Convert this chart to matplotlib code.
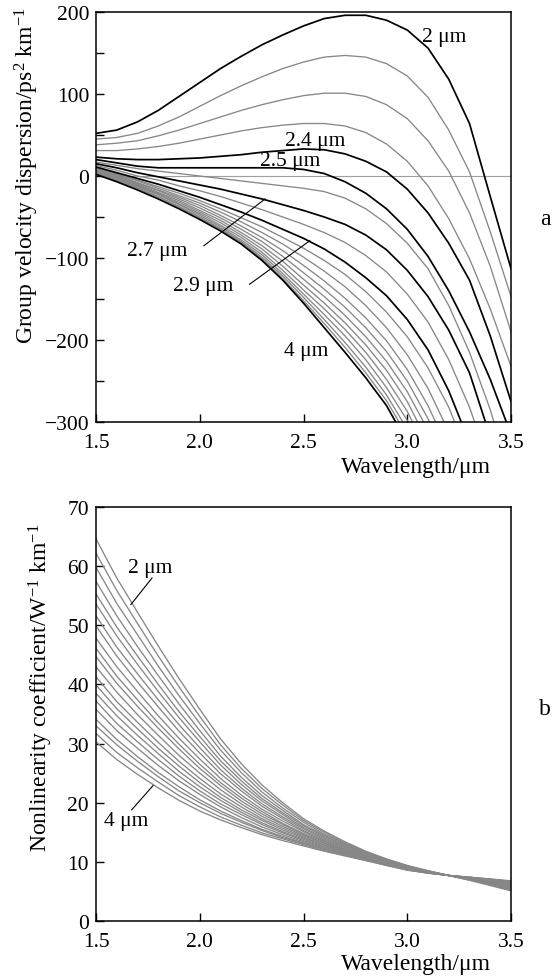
import numpy as np, matplotlib
matplotlib.use('Agg')
import matplotlib.pyplot as plt
from matplotlib.ticker import MultipleLocator, FormatStrFormatter

plt.rcParams.update({'font.family': 'Liberation Serif', 'font.size': 15.5,
                     'mathtext.fontset': 'custom', 'mathtext.rm': 'Liberation Serif',
                     'mathtext.it': 'Liberation Serif:italic', 'axes.linewidth': 1.1})

wl = [1.5, 1.6, 1.7, 1.8, 1.9, 2.0, 2.1, 2.2, 2.3, 2.4, 2.5,
      2.6, 2.7, 2.8, 2.9, 3.0, 3.1, 3.2, 3.3, 3.4, 3.5]
diam = [2.0, 2.1, 2.2, 2.3, 2.4, 2.5, 2.6, 2.7, 2.8, 2.9, 3.0,
        3.1, 3.2, 3.3, 3.4, 3.5, 3.6, 3.7, 3.8, 3.9, 4.0]
black_d = [2.0, 2.4, 2.5, 2.7, 2.9, 4.0]

# group velocity dispersion, ps^2/km, one list per core diameter
gvd_20 = [52, 56, 66, 80, 97, 114, 131, 146, 160, 172, 183, 192, 196, 196, 190, 178, 156, 118, 64, -25, -113]
gvd_21 = [45, 47, 52, 61, 72, 85, 98, 110, 121, 131, 139, 145, 147, 145, 137, 122, 96, 56, 5, -68, -147]
gvd_22 = [38, 40, 43, 49, 56, 64, 72, 80, 87, 93, 98, 101, 101, 97, 87, 70, 43, 6, -45, -110, -190]
gvd_23 = [31, 31, 33, 36, 40, 45, 50, 55, 59, 62, 64, 64, 61, 53, 39, 18, -12, -52, -101, -162, -232]
gvd_24 = [23, 21, 20, 20, 21, 22, 24, 26, 29, 31, 33, 32, 27, 18, 5, -16, -45, -82, -127, -195, -275]
gvd_25 = [20, 16, 12, 10, 10, 10, 10, 10, 10, 10, 8, 3, -7, -21, -40, -65, -98, -140, -190, -248, -315]
gvd_26 = [17, 13, 9, 6, 3, 0, -3, -6, -9, -12, -15, -19, -27, -40, -58, -82, -113, -158, -215, -285, -370]
gvd_27 = [15, 10, 4, -1, -6, -11, -16, -22, -28, -35, -42, -50, -59, -72, -90, -115, -147, -188, -240, -318, -400]
gvd_28 = [13, 7, 0, -5, -12, -18, -25, -33, -41, -50, -59, -69, -81, -97, -117, -144, -178, -224, -282, -355, -440]
gvd_29 = [11, 4, -3, -10, -18, -26, -35, -44, -54, -65, -76, -89, -105, -124, -146, -175, -212, -262, -325, -400, -480]
gvd_30 = [10, 3, -5, -13, -21, -30, -40, -51, -62, -75, -88, -103, -120, -141, -166, -196, -234, -282, -345, -420, -500]
gvd_31 = [9, 2, -6, -15, -24, -33, -44, -56, -69, -83, -99, -116, -135, -158, -185, -218, -259, -312, -380, -460, -550]
gvd_32 = [8, 1, -8, -17, -26, -36, -48, -61, -75, -91, -109, -128, -149, -173, -201, -236, -280, -335, -400, -480, -570]
gvd_33 = [7, 0, -9, -18, -28, -39, -51, -65, -80, -98, -118, -138, -160, -185, -214, -250, -296, -352, -420, -500, -590]
gvd_34 = [6, -1, -10, -20, -30, -42, -54, -69, -85, -104, -126, -147, -170, -196, -226, -263, -310, -368, -440, -520, -610]
gvd_35 = [5, -2, -11, -21, -32, -44, -57, -72, -89, -110, -133, -155, -179, -206, -237, -275, -325, -385, -455, -535, -625]
gvd_36 = [4.5, -3, -12, -22, -34, -46, -60, -75, -93, -115, -139, -162, -187, -215, -248, -287, -338, -400, -470, -550, -640]
gvd_37 = [4, -4, -13, -23, -35, -48, -62, -78, -96, -119, -144, -169, -195, -224, -258, -298, -350, -412, -485, -565, -655]
gvd_38 = [3.5, -5, -14, -25, -37, -50, -64, -80, -99, -122, -148, -175, -203, -233, -267, -309, -362, -425, -500, -580, -670]
gvd_39 = [3, -6, -15, -26, -38, -51, -65, -81, -101, -125, -152, -180, -209, -240, -274, -317, -370, -435, -510, -590, -680]
gvd_40 = [2, -7, -17, -28, -40, -53, -67, -83, -103, -127, -155, -185, -215, -246, -280, -325, -380, -445, -520, -600, -690]

# nonlinearity coefficient, 1/(W km)
gam_20 = [64.6, 58.0, 52.2, 46.5, 41.0, 35.8, 30.8, 26.6, 23.0, 20.0, 17.3, 15.2, 13.4, 11.8, 10.5, 9.4, 8.5, 7.7, 6.9, 6.0, 5.1]
gam_21 = [62.2, 55.9, 50.3, 44.8, 39.6, 34.6, 29.8, 25.8, 22.4, 19.6, 17.0, 15.0, 13.2, 11.7, 10.4, 9.3, 8.5, 7.7, 6.9, 6.1, 5.2]
gam_22 = [59.8, 53.7, 48.4, 43.1, 38.1, 33.4, 28.9, 25.1, 21.8, 19.1, 16.7, 14.7, 13.1, 11.6, 10.4, 9.3, 8.4, 7.7, 7.0, 6.2, 5.3]
gam_23 = [57.4, 51.6, 46.4, 41.5, 36.7, 32.2, 27.9, 24.3, 21.2, 18.7, 16.3, 14.5, 12.9, 11.5, 10.3, 9.2, 8.4, 7.7, 7.0, 6.2, 5.5]
gam_24 = [55.3, 49.7, 44.8, 40.0, 35.4, 31.2, 27.1, 23.7, 20.7, 18.3, 16.1, 14.3, 12.8, 11.4, 10.2, 9.2, 8.4, 7.7, 7.0, 6.3, 5.6]
gam_25 = [53.6, 48.2, 43.4, 38.8, 34.4, 30.3, 26.4, 23.1, 20.3, 18.0, 15.8, 14.1, 12.6, 11.3, 10.2, 9.1, 8.4, 7.7, 7.1, 6.4, 5.6]
gam_26 = [51.6, 46.3, 41.8, 37.4, 33.2, 29.3, 25.6, 22.5, 19.8, 17.6, 15.6, 13.9, 12.5, 11.2, 10.1, 9.1, 8.4, 7.7, 7.1, 6.4, 5.8]
gam_27 = [49.9, 44.8, 40.4, 36.2, 32.1, 28.4, 24.9, 22.0, 19.4, 17.3, 15.3, 13.7, 12.4, 11.1, 10.0, 9.1, 8.3, 7.7, 7.1, 6.5, 5.8]
gam_28 = [47.8, 43.0, 38.8, 34.7, 30.9, 27.4, 24.1, 21.3, 18.9, 16.9, 15.1, 13.5, 12.2, 11.0, 10.0, 9.0, 8.3, 7.7, 7.2, 6.5, 5.9]
gam_29 = [46.1, 41.4, 37.4, 33.5, 29.9, 26.5, 23.4, 20.8, 18.5, 16.5, 14.8, 13.4, 12.1, 10.9, 9.9, 9.0, 8.3, 7.7, 7.2, 6.6, 6.0]
gam_30 = [44.7, 40.2, 36.3, 32.6, 29.1, 25.8, 22.9, 20.3, 18.1, 16.3, 14.6, 13.2, 12.0, 10.9, 9.9, 8.9, 8.3, 7.7, 7.2, 6.6, 6.1]
gam_31 = [43.0, 38.7, 34.9, 31.4, 28.0, 25.0, 22.2, 19.8, 17.7, 16.0, 14.4, 13.1, 11.9, 10.8, 9.8, 8.9, 8.3, 7.7, 7.2, 6.7, 6.2]
gam_32 = [41.3, 37.1, 33.6, 30.2, 27.0, 24.1, 21.5, 19.3, 17.3, 15.7, 14.2, 12.9, 11.8, 10.7, 9.8, 8.9, 8.2, 7.7, 7.3, 6.8, 6.3]
gam_33 = [39.9, 35.9, 32.5, 29.2, 26.2, 23.4, 20.9, 18.8, 17.0, 15.4, 14.0, 12.8, 11.7, 10.7, 9.7, 8.8, 8.2, 7.7, 7.3, 6.8, 6.3]
gam_34 = [38.5, 34.7, 31.4, 28.3, 25.3, 22.7, 20.4, 18.4, 16.6, 15.1, 13.8, 12.6, 11.6, 10.6, 9.7, 8.8, 8.2, 7.7, 7.3, 6.8, 6.4]
gam_35 = [37.2, 33.4, 30.3, 27.3, 24.5, 22.0, 19.8, 18.0, 16.3, 14.9, 13.6, 12.5, 11.5, 10.5, 9.6, 8.8, 8.2, 7.7, 7.3, 6.9, 6.5]
gam_36 = [35.8, 32.2, 29.2, 26.3, 23.7, 21.4, 19.3, 17.5, 15.9, 14.6, 13.4, 12.3, 11.4, 10.5, 9.6, 8.7, 8.2, 7.7, 7.3, 6.9, 6.5]
gam_37 = [34.1, 30.7, 27.8, 25.1, 22.7, 20.5, 18.6, 17.0, 15.5, 14.3, 13.2, 12.2, 11.3, 10.4, 9.5, 8.7, 8.1, 7.7, 7.4, 7.0, 6.6]
gam_38 = [33.0, 29.8, 27.0, 24.4, 22.0, 20.0, 18.2, 16.7, 15.3, 14.1, 13.1, 12.1, 11.2, 10.3, 9.5, 8.7, 8.1, 7.7, 7.4, 7.0, 6.7]
gam_39 = [31.7, 28.5, 25.9, 23.5, 21.2, 19.3, 17.6, 16.2, 14.9, 13.9, 12.9, 11.9, 11.1, 10.3, 9.4, 8.6, 8.1, 7.7, 7.4, 7.1, 6.7]
gam_40 = [30.3, 27.3, 24.8, 22.5, 20.4, 18.6, 17.1, 15.8, 14.6, 13.6, 12.7, 11.8, 11.0, 10.2, 9.4, 8.6, 8.1, 7.7, 7.4, 7.1, 6.8]

gvd = [gvd_20, gvd_21, gvd_22, gvd_23, gvd_24, gvd_25, gvd_26, gvd_27, gvd_28, gvd_29, gvd_30,
       gvd_31, gvd_32, gvd_33, gvd_34, gvd_35, gvd_36, gvd_37, gvd_38, gvd_39, gvd_40]
gam = [gam_20, gam_21, gam_22, gam_23, gam_24, gam_25, gam_26, gam_27, gam_28, gam_29, gam_30,
       gam_31, gam_32, gam_33, gam_34, gam_35, gam_36, gam_37, gam_38, gam_39, gam_40]

GREY = '#878787'
W, H = 556, 978
fig = plt.figure(figsize=(W / 100, H / 100), dpi=100)
ax1 = fig.add_axes([96 / W, 1 - 423 / H, 415 / W, 410 / H])
ax2 = fig.add_axes([96 / W, 1 - 922 / H, 415 / W, 414 / H])

# ---- a: dispersion ----
ax1.axhline(0, color='#a0a0a0', lw=0.8, zorder=1)
for d, g in zip(diam, gvd):
    blk = d in black_d
    ax1.plot(wl, g, color='black' if blk else GREY, lw=1.25 if blk else 0.95, zorder=3 if blk else 2)
ax1.set_ylim(-300, 200)
ax1.yaxis.set_major_locator(MultipleLocator(100))
ax1.yaxis.set_minor_locator(MultipleLocator(50))

ax1.text(3.07, 170, '2 μm', va='center')
ax1.text(2.41, 43, '2.4 μm', va='center')
ax1.text(2.29, 19, '2.5 μm', va='center')
ax1.text(1.795, -91, '2.7 μm', ha='center', va='center')
ax1.plot([2.02, 2.315], [-85, -28], color='black', lw=0.8)
ax1.text(2.015, -134, '2.9 μm', ha='center', va='center')
ax1.plot([2.24, 2.53], [-132, -79], color='black', lw=0.8)
ax1.text(2.515, -213, '4 μm', ha='center', va='center')

# ---- b: nonlinearity ----
for d, g in zip(diam, gam):
    ax2.plot(wl, g, color=GREY, lw=0.95)
ax2.set_ylim(0, 70)
ax2.yaxis.set_major_locator(MultipleLocator(10))
ax2.text(1.76, 59.8, '2 μm', ha='center', va='center')
ax2.plot([1.77, 1.668], [58.0, 53.5], color='black', lw=0.8)
ax2.text(1.645, 17.0, '4 μm', ha='center', va='center')
ax2.plot([1.672, 1.775], [18.8, 22.9], color='black', lw=0.8)

for ax in (ax1, ax2):
    ax.set_xlim(1.5, 3.5)
    ax.xaxis.set_major_locator(MultipleLocator(0.5))
    ax.xaxis.set_major_formatter(FormatStrFormatter('%.1f'))
    ax.tick_params(which='both', direction='in', length=6, width=1, top=False, right=False)
    ax.tick_params(axis='x', pad=8)
    ax.tick_params(axis='y', pad=5)

fs = 17
fig.text(27 / W, 1 - 176 / H, 'Group velocity dispersion/ps$^2$ km$^{-1}$',
         rotation=90, ha='center', va='center', fontsize=fs)
fig.text(41 / W, 1 - 688 / H, 'Nonlinearity coefficient/W$^{-1}$ km$^{-1}$',
         rotation=90, ha='center', va='center', fontsize=fs)
fig.text(491 / W, 1 - 468 / H, 'Wavelength/μm', ha='right', va='center', fontsize=fs)
fig.text(491 / W, 1 - 965 / H, 'Wavelength/μm', ha='right', va='center', fontsize=fs)
fig.text(545 / W, 1 - 220 / H, 'a', ha='center', va='center', fontsize=fs)
fig.text(545 / W, 1 - 710 / H, 'b', ha='center', va='center', fontsize=fs)

fig.savefig('out.png', dpi=100)
